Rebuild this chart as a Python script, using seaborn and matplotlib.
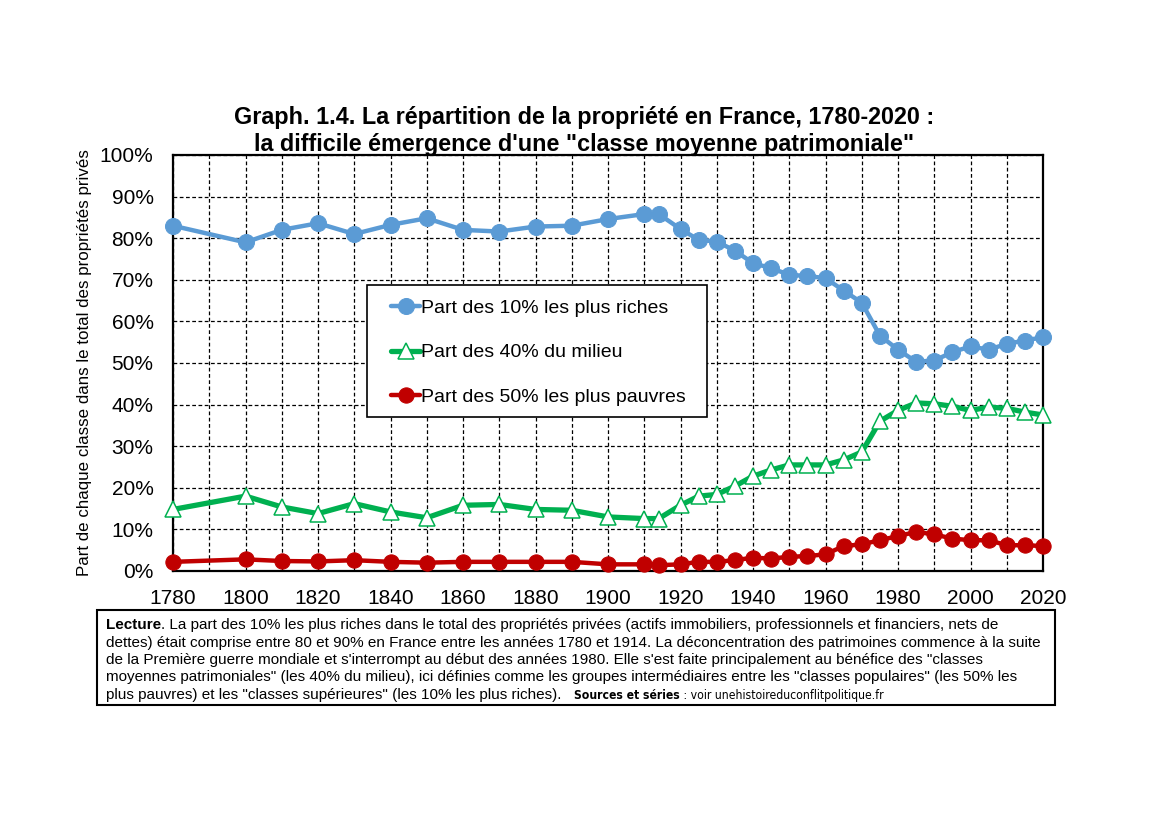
import matplotlib
matplotlib.use("Agg")
import matplotlib.pyplot as plt
import seaborn as sns
import numpy as np
import pandas as pd
from matplotlib import font_manager
from matplotlib.ticker import PercentFormatter, MultipleLocator
from matplotlib.patches import Rectangle

years = [1780, 1800, 1810, 1820, 1830, 1840, 1850, 1860, 1870, 1880, 1890, 1900,
         1910, 1914, 1920, 1925, 1930, 1935, 1940, 1945, 1950, 1955, 1960, 1965,
         1970, 1975, 1980, 1985, 1990, 1995, 2000, 2005, 2010, 2015, 2020]
top10 = [83.0, 79.0, 82.0, 83.6, 81.0, 83.2, 84.8, 82.0, 81.6, 82.8, 83.0, 84.6,
         85.8, 85.8, 82.2, 79.6, 79.2, 77.0, 74.0, 72.8, 71.2, 70.9, 70.4, 67.4,
         64.5, 56.6, 53.2, 50.3, 50.6, 52.6, 54.0, 53.2, 54.6, 55.4, 56.2]
mid40 = [14.8, 18.0, 15.4, 13.8, 16.2, 14.2, 12.8, 15.8, 16.0, 14.8, 14.6, 13.0,
         12.6, 12.6, 15.8, 18.0, 18.4, 20.4, 22.8, 24.3, 25.5, 25.5, 25.5, 26.7,
         28.6, 36.0, 38.6, 40.4, 40.2, 39.6, 38.6, 39.4, 39.1, 38.2, 37.5]
bottom50 = [2.2, 2.8, 2.4, 2.3, 2.6, 2.2, 2.0, 2.2, 2.2, 2.2, 2.2, 1.6,
            1.6, 1.4, 1.6, 2.2, 2.2, 2.6, 3.2, 3.0, 3.4, 3.6, 4.0, 6.0,
            6.4, 7.4, 8.4, 9.4, 8.8, 7.8, 7.4, 7.4, 6.2, 6.2, 6.0]
labels = ["Part des 10% les plus riches", "Part des 40% du milieu",
          "Part des 50% les plus pauvres"]

sns.set_style("white")
plt.rcParams["font.family"] = ["Liberation Sans", "DejaVu Sans"]
plt.rcParams["text.color"] = "black"
plt.rcParams["axes.labelcolor"] = "black"
plt.rcParams["xtick.color"] = "black"
plt.rcParams["ytick.color"] = "black"

W, H = 1169, 826
fig = plt.figure(figsize=(W / 100, H / 100), dpi=100)
L, R, T, B = 173, 1043, 155, 571
ax = fig.add_axes([L / W, 1 - B / H, (R - L) / W, (B - T) / H])

df = pd.DataFrame({"year": years, "top": top10, "mid": mid40, "bot": bottom50})

sns.lineplot(data=df, x="year", y="top", ax=ax, color="#5B9BD5", linewidth=3.2,
             marker="o", markersize=11.5, mec="#5B9BD5", mfc="#5B9BD5",
             label=labels[0], clip_on=False, zorder=5)
sns.lineplot(data=df, x="year", y="mid", ax=ax, color="#00B050", linewidth=3.8,
             marker="^", markersize=11.5, mec="#00B050", mfc="white", mew=1.1,
             label=labels[1], clip_on=False, zorder=5)
sns.lineplot(data=df, x="year", y="bot", ax=ax, color="#C00000", linewidth=3.2,
             marker="o", markersize=11, mec="#C00000", mfc="#C00000",
             label=labels[2], clip_on=False, zorder=5)

ax.set_xlim(1780, 2020)
ax.set_ylim(0, 100)
ax.xaxis.set_major_locator(MultipleLocator(20))
ax.xaxis.set_minor_locator(MultipleLocator(10))
ax.yaxis.set_major_locator(MultipleLocator(10))
ax.yaxis.set_major_formatter(PercentFormatter(100, decimals=0))
ax.grid(True, which="both", color="black", linestyle=(0, (3, 2)), linewidth=0.9)
ax.set_axisbelow(True)
ax.tick_params(axis="both", which="both", direction="out", color="black",
               length=5, width=1.2, labelsize=15)
ax.tick_params(axis="y", pad=9)
ax.tick_params(axis="x", pad=8)
for s in ax.spines.values():
    s.set_color("black")
    s.set_linewidth(1.6)
    s.set_visible(True)
ax.set_xlabel("")
ax.set_ylabel("Part de chaque classe dans le total des propriétés privés", fontsize=12.2)
ax.yaxis.set_label_coords((92 - L) / (R - L), 0.5)

# legend frame drawn separately (wider on the right as in the original)
ax.add_patch(Rectangle(((367 - L) / (R - L), (B - 417) / (B - T)),
                       (707 - 367) / (R - L), (417 - 285) / (B - T),
                       transform=ax.transAxes, facecolor="white", edgecolor="black",
                       linewidth=1.2, zorder=9))
leg = ax.legend(loc="upper left", bbox_to_anchor=((391 - L) / (R - L), (B - 299) / (B - T)),
                borderaxespad=0, fontsize=14, frameon=False, handlelength=1.5,
                handletextpad=0.05, labelspacing=1.4, borderpad=0)
leg.set_zorder(10)

fig.text(0.5, 1 - 124 / H, "Graph. 1.4. La répartition de la propriété en France, 1780-2020 :",
         ha="center", va="baseline", fontsize=16.8, fontweight="bold")
fig.text(0.5, 1 - 151 / H, "la difficile émergence d'une \"classe moyenne patrimoniale\"",
         ha="center", va="baseline", fontsize=16.8, fontweight="bold")

# caption box
fig.patches.append(Rectangle((97 / W, 1 - 705 / H), (1055 - 97) / W, (705 - 610) / H,
                             transform=fig.transFigure, fill=False, edgecolor="black",
                             linewidth=1.5))
cap_lines = [
    ". La part des 10% les plus riches dans le total des propriétés privées (actifs immobiliers, professionnels et financiers, nets de",
    "dettes) était comprise entre 80 et 90% en France entre les années 1780 et 1914. La déconcentration des patrimoines commence à la suite",
    "de la Première guerre mondiale et s'interrompt au début des années 1980. Elle s'est faite principalement au bénéfice des \"classes",
    "moyennes patrimoniales\" (les 40% du milieu), ici définies comme les groupes intermédiaires entre les \"classes populaires\" (les 50% les",
    "plus pauvres) et les \"classes supérieures\" (les 10% les plus riches).   ",
]
cap_size = 11.0
x0 = 106
base = [629, 646.5, 664, 681.5, 699]
renderer = fig.canvas.get_renderer()


def put(x, y, s, **kw):
    t = fig.text(x / W, 1 - y / H, s, ha="left", va="baseline", fontsize=cap_size, **kw)
    bb = t.get_window_extent(renderer=renderer)
    return bb.x1


installed = {f.name for f in font_manager.fontManager.ttflist}
if "Liberation Sans Narrow" in installed:
    narrow = dict(family="Liberation Sans Narrow")
else:
    narrow = dict(family="DejaVu Sans", fontstretch="condensed", fontsize=8.7)

xe = put(x0, base[0], "Lecture", fontweight="bold")
put(xe, base[0], cap_lines[0])
for i in range(1, 4):
    put(x0, base[i], cap_lines[i])
xe = put(x0, base[4], cap_lines[4])


def put_n(x, y, s, **kw):
    kw2 = dict(narrow)
    size = kw2.pop("fontsize", cap_size)
    t = fig.text(x / W, 1 - y / H, s, ha="left", va="baseline", fontsize=size, **kw2, **kw)
    return t.get_window_extent(renderer=renderer).x1


xe = put_n(xe, base[4], "Sources et séries", fontweight="bold")
put_n(xe, base[4], " : voir unehistoireduconflitpolitique.fr")

fig.savefig("out.png", dpi=100)
